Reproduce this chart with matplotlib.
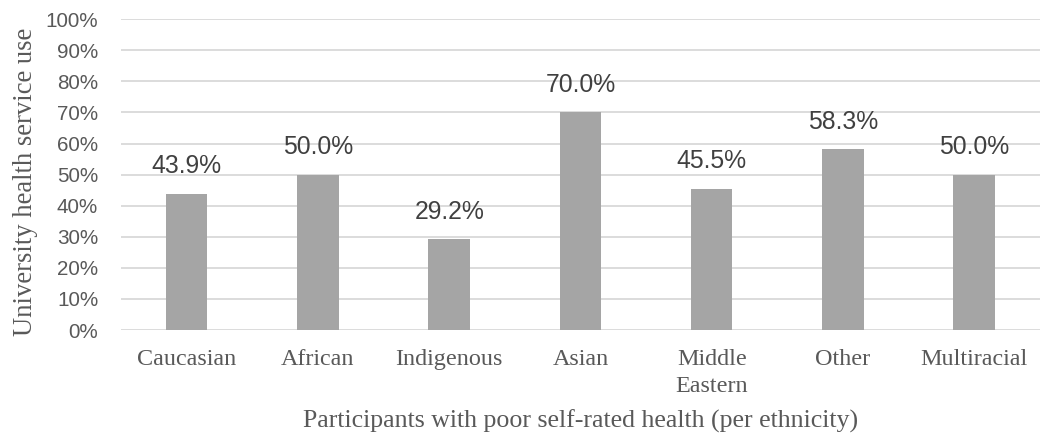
import matplotlib.pyplot as plt
from matplotlib.ticker import PercentFormatter

# dados
categorias = ["Caucasian", "African", "Indigenous", "Asian", "Middle\nEastern", "Other", "Multiracial"]
valores = [43.9, 50.0, 29.2, 70.0, 45.5, 58.3, 50.0]

cor_texto = "#595959"

fig = plt.figure(figsize=(10.44, 4.36), dpi=100)
ax = fig.add_axes([0.116, 0.243, 0.88, 0.713])

x = range(len(categorias))
ax.bar(x, valores, width=0.316, color="#a5a5a5", zorder=2)

# rótulos em cima das barras
for i, v in enumerate(valores):
    ax.annotate(f"{v:.1f}%", (i, v), xytext=(0, 14.5), textcoords="offset points",
                ha="center", va="baseline", fontsize=17.8, color="#404040",
                family="Liberation Sans")

ax.set_ylim(0, 100)
ax.set_xlim(-0.5, len(categorias) - 0.5)
ax.set_yticks(range(0, 101, 10))
ax.yaxis.set_major_formatter(PercentFormatter(decimals=0))
ax.grid(axis="y", color="#d9d9d9", linewidth=1.3, zorder=0)
ax.set_xticks(list(x))
ax.set_xticklabels(categorias, family="Liberation Serif", fontsize=17.4, color=cor_texto,
                   linespacing=1.35)
for lbl in ax.get_yticklabels():
    lbl.set_family("Liberation Sans")
    lbl.set_fontsize(14.9)
    lbl.set_color(cor_texto)
ax.tick_params(axis="both", length=0)
ax.tick_params(axis="x", pad=14)
ax.tick_params(axis="y", pad=16.5)
for s in ax.spines.values():
    s.set_visible(False)

ax.set_ylabel("University health service use", family="Liberation Serif", fontsize=19.2,
              color=cor_texto)
ax.yaxis.set_label_coords(-0.09, 0.476)
ax.set_xlabel("Participants with poor self-rated health (per ethnicity)", family="Liberation Serif",
              fontsize=18.6, color=cor_texto, labelpad=9)

fig.savefig("out.png", dpi=100)
